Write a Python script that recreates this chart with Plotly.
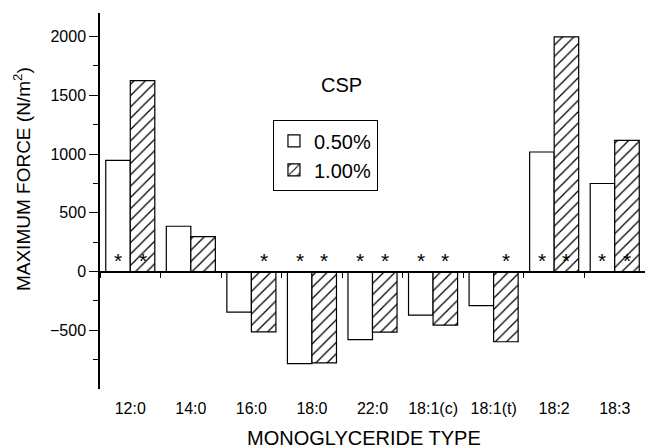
import plotly.graph_objects as go

categories = ["12:0", "14:0", "16:0", "18:0", "22:0", "18:1(c)", "18:1(t)", "18:2", "18:3"]
force_050 = [945, 385, -345, -784, -579, -371, -291, 1017, 749]
force_100 = [1624, 296, -513, -778, -516, -456, -598, 1997, 1116]
sig_050 = [True, False, False, True, True, True, False, True, True]
sig_100 = [True, False, True, True, True, True, True, True, True]
ytick_vals = [-500, 0, 500, 1000, 1500, 2000]
yminor_vals = [-750, -250, 250, 750, 1250, 1750]

FONT = "Liberation Sans, Arial, sans-serif"
Y_RANGE = [-1000, 2200]
zero_pos = (0 - Y_RANGE[0]) / (Y_RANGE[1] - Y_RANGE[0])

fig = go.Figure()
fig.add_trace(go.Bar(
    x=categories, y=force_050, name="0.50%",
    marker=dict(color="white", line=dict(color="black", width=1.2)),
))
fig.add_trace(go.Bar(
    x=categories, y=force_100, name="1.00%",
    marker=dict(color="white", line=dict(color="black", width=1.2),
                pattern=dict(shape="/", fgcolor="black", bgcolor="white",
                             size=8, solidity=0.16, fgopacity=1)),
))
# helper trace so the zero-line axis gets the categories
fig.add_trace(go.Scatter(
    x=categories, y=[0] * len(categories), xaxis="x2", mode="markers",
    marker=dict(opacity=0), showlegend=False, hoverinfo="skip",
))

annotations = []
half = 12.25
for cat, s05, s10 in zip(categories, sig_050, sig_100):
    for flag, shift in ((s05, -half), (s10, half)):
        if flag:
            annotations.append(dict(
                x=cat, y=0, xref="x", yref="y", text="*", showarrow=False,
                xshift=shift, yshift=11, yanchor="middle",
                font=dict(family=FONT, size=21, color="black"),
            ))

annotations += [
    dict(text="CSP", x=0.4435, y=0.8085, xref="paper", yref="paper", showarrow=False,
         xanchor="center", yanchor="middle", font=dict(family=FONT, size=20, color="black")),
    dict(text="MONOGLYCERIDE TYPE", x=0.484, y=-0.130, xref="paper", yref="paper",
         showarrow=False, xanchor="center", yanchor="middle",
         font=dict(family=FONT, size=20, color="black")),
    dict(text="MAXIMUM FORCE (N/m<sup>2</sup>)", x=-0.143, y=0.5585, xref="paper", yref="paper",
         showarrow=False, xanchor="center", yanchor="middle", textangle=-90,
         font=dict(family=FONT, size=19, color="black")),
]

fig.update_layout(
    width=645, height=448,
    margin=dict(l=100, r=0, t=13, b=59),
    paper_bgcolor="white", plot_bgcolor="white",
    font=dict(family=FONT, size=16, color="black"),
    barmode="group", bargap=0.19, bargroupgap=0,
    showlegend=True,
    legend=dict(x=0.317, y=0.715, xanchor="left", yanchor="top",
                bordercolor="black", borderwidth=1.2, bgcolor="white",
                font=dict(family=FONT, size=20, color="black"),
                tracegroupgap=0),
    xaxis=dict(
        type="category", showline=False, showgrid=False, zeroline=False,
        ticks="", ticklabelstandoff=8, tickfont=dict(family=FONT, size=16),
        range=[-0.5, 8.5],
    ),
    xaxis2=dict(
        overlaying="x", matches="x", anchor="free", position=zero_pos,
        type="category", showline=True, linecolor="black", linewidth=1.5,
        ticks="outside", tickson="boundaries", ticklen=6, tickcolor="black",
        showticklabels=False, showgrid=False, zeroline=False,
    ),
    yaxis=dict(
        range=Y_RANGE, showline=True, linecolor="black", linewidth=1.5,
        showgrid=False, zeroline=False,
        tickmode="array", tickvals=ytick_vals, ticks="outside", ticklen=9,
        tickcolor="black", tickfont=dict(family=FONT, size=16),
        minor=dict(tickmode="array", tickvals=yminor_vals, ticks="outside",
                   ticklen=5, tickcolor="black"),
    ),
    annotations=annotations,
)

fig.write_html(
    "out.html",
    config={"displayModeBar": False},
    post_script="document.body.style.margin='0px';document.body.style.overflow='hidden';",
)
